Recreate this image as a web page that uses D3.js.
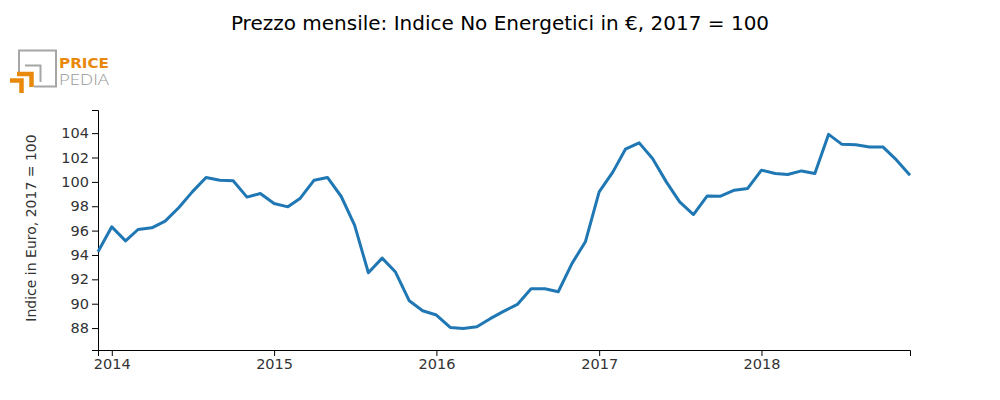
<!DOCTYPE html>
<html>
<head>
<meta charset="utf-8">
<script src="https://cdn.jsdelivr.net/npm/d3@7"></script>
<style>
  body { margin: 0; background: #fff; }
  svg { display: block; font-family: "DejaVu Sans", sans-serif; }
</style>
</head>
<body>
<svg id="chart" width="1000" height="400"></svg>
<script>
const title = "Prezzo mensile: Indice No Energetici in €, 2017 = 100";
const yLabel = "Indice in Euro, 2017 = 100";
const startMonth = "2013-12";
const values = [
  94.26,
  96.31, 95.16, 96.09, 96.23, 96.78, 97.90, 99.18, 100.36, 100.14, 100.09, 98.75, 99.05,
  98.23, 97.95, 98.66, 100.14, 100.36, 98.80, 96.45, 92.54, 93.74, 92.60, 90.24, 89.42,
  89.07, 88.05, 87.97, 88.11, 88.77, 89.39, 89.94, 91.23, 91.23, 90.98, 93.31, 95.08,
  99.18, 100.82, 102.68, 103.20, 101.92, 100.00, 98.36, 97.32, 98.85, 98.83, 99.32, 99.46,
  100.96, 100.69, 100.61, 100.90, 100.69, 103.90, 103.08, 103.05, 102.87, 102.87, 101.78, 100.55
];
const yTicks = [88, 90, 92, 94, 96, 98, 100, 102, 104];
const xTickYears = [2014, 2015, 2016, 2017, 2018];

(function () {
const parse = d3.timeParse("%Y-%m");
const t0 = parse(startMonth);
const data = values.map((v, i) => ({ date: d3.timeMonth.offset(t0, i), value: v }));

const svg = d3.select("#chart");
const mL = 98, mR = 910, mT = 110, mB = 350;

const x = d3.scaleTime()
  .domain(d3.extent(data, d => d.date))
  .range([mL, mR]);
const y = d3.scaleLinear()
  .domain([86.2, 105.9])
  .range([mB, mT]);

// title
svg.append("text")
  .attr("x", 500).attr("y", 29.5)
  .attr("text-anchor", "middle")
  .attr("font-size", 20)
  .attr("fill", "#000")
  .text(title);

// y axis
const yAxis = svg.append("g")
  .attr("transform", `translate(${mL},0)`)
  .call(d3.axisLeft(y).tickValues(yTicks).tickSize(6).tickSizeOuter(6).tickFormat(d3.format("d")));
yAxis.selectAll("text").attr("font-size", 14.5).attr("font-family", "DejaVu Sans").attr("fill", "#333");

// x axis
const xAxis = svg.append("g")
  .attr("transform", `translate(0,${mB})`)
  .call(d3.axisBottom(x)
    .tickValues(xTickYears.map(yr => new Date(yr, 0, 1)))
    .tickSize(6).tickSizeOuter(6)
    .tickFormat(d3.timeFormat("%Y")));
xAxis.selectAll("text").attr("font-size", 14.5).attr("font-family", "DejaVu Sans").attr("fill", "#333");

// y label
svg.append("text")
  .attr("transform", `translate(36,${(mT + mB) / 2 - 2}) rotate(-90)`)
  .attr("text-anchor", "middle")
  .attr("font-size", 14)
  .attr("fill", "#333")
  .text(yLabel);

// line
svg.append("path")
  .datum(data)
  .attr("fill", "none")
  .attr("stroke", "#1f77b4")
  .attr("stroke-width", 3)
  .attr("stroke-linejoin", "round")
  .attr("d", d3.line().x(d => x(d.date)).y(d => y(d.value)));

// logo
const logo = svg.append("g");
const gray = "#a6a6a6", orange = "#e8890c";
logo.append("path").attr("d", "M19,72 V50.5 H56 V86.5 H34").attr("fill", "none").attr("stroke", gray).attr("stroke-width", 2);
logo.append("path").attr("d", "M25,65.5 H40.5 V82").attr("fill", "none").attr("stroke", gray).attr("stroke-width", 2);
logo.append("path").attr("d", "M17,74 H31.5 V87").attr("fill", "none").attr("stroke", orange).attr("stroke-width", 4.5);
logo.append("path").attr("d", "M10,80.5 H21.5 V93").attr("fill", "none").attr("stroke", orange).attr("stroke-width", 4.5);
logo.append("text").attr("x", 59).attr("y", 67.5).attr("font-size", 14).attr("font-weight", "bold")
  .attr("fill", orange).attr("textLength", 50).attr("lengthAdjust", "spacingAndGlyphs").text("PRICE");
logo.append("text").attr("x", 59).attr("y", 84.5).attr("font-size", 14).attr("font-weight", 300)
  .attr("font-family", "Open Sans, DejaVu Sans")
  .attr("fill", "#999").attr("textLength", 50).attr("lengthAdjust", "spacingAndGlyphs").text("PEDIA");
})();
</script>
</body>
</html>
